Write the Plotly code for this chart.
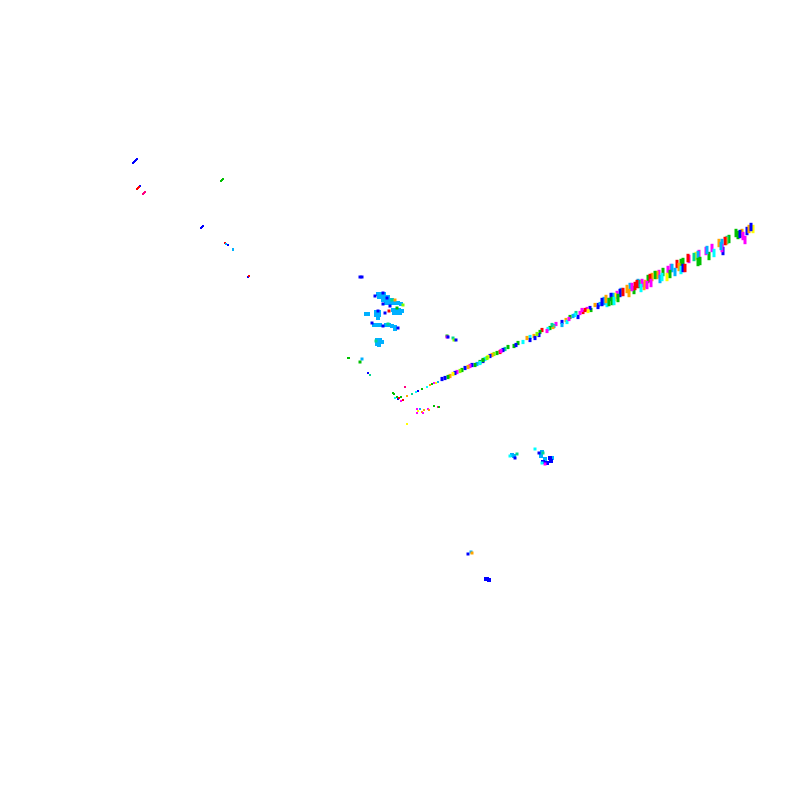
import plotly.graph_objects as go

# class -> colour
class_colors = {
    "red": "#ff0000", "pink": "#ff0080", "orange": "#ffa500", "yellow": "#ffff00",
    "lime": "#80ff00", "green": "#00c000", "spring": "#00d890", "cyan": "#00ffff",
    "azure": "#00b0ff", "blue": "#0000ff", "magenta": "#ff00ff",
}

# outer part of the ray: x, y, class
ray_far = [
    (738,235,"green"),(736,233,"green"),(742,233,"orange"),(740,234,"blue"),(745,240,"magenta"),(743,236,"magenta"),
    (747,231,"blue"),(749,229,"orange"),(753,229,"yellow"),(751,227,"blue"),
    (729,239,"green"),(727,240,"spring"),(726,241,"orange"),(725,241,"red"),(719,243,"orange"),(722,243,"azure"),
    (723,251,"blue"),(722,248,"magenta"),(721,246,"azure"),(712,248,"magenta"),(714,253,"cyan"),(709,256,"green"),(706,251,"magenta"),(707,250,"azure"),
    (699,254,"magenta"),(696,256,"yellow"),(698,255,"azure"),(694,257,"spring"),(700,261,"green"),(698,262,"green"),
    (689,259,"magenta"),(688,258,"red"),(683,262,"green"),(681,263,"green"),(677,264,"red"),
    (679,267,"orange"),(681,270,"cyan"),(683,268,"blue"),(685,268,"red"),
    (671,268,"magenta"),(675,272,"azure"),(672,268,"azure"),(668,270,"magenta"),(667,277,"yellow"),(670,274,"green"),
    (663,272,"green"),(659,274,"magenta"),(657,275,"orange"),(655,275,"green"),(660,279,"azure"),(662,277,"cyan"),
    (652,277,"orange"),(648,279,"green"),(650,278,"red"),(651,283,"magenta"),
    (644,286,"orange"),(645,284,"orange"),(642,283,"magenta"),(639,284,"green"),(641,288,"cyan"),(638,283,"azure"),
    (637,284,"red"),(647,285,"magenta"),(634,290,"green"),(635,286,"red"),(630,287,"azure"),(632,287,"magenta"),
    (627,289,"orange"),(629,293,"orange"),(621,292,"azure"),(620,293,"blue"),(623,292,"red"),
    (617,295,"magenta"),(615,297,"yellow"),(618,298,"green"),(613,297,"azure"),(611,297,"blue"),
    (612,301,"green"),(607,303,"cyan"),(604,301,"azure"),(602,302,"blue"),(606,299,"orange"),
    (609,302,"green"),(614,301,"cyan"),
]

# middle part of the ray
ray_mid = [
    (608,300,"azure"),(607,303,"cyan"),(603,302,"blue"),(598,305,"blue"),(600,304,"azure"),(598,307,"blue"),(595,305,"orange"),
    (591,310,"green"),(590,308,"blue"),(587,309,"magenta"),(588,311,"yellow"),(585,310,"red"),(583,312,"red"),(580,313,"magenta"),
    (582,310,"magenta"),(578,317,"blue"),(576,313,"spring"),(575,315,"cyan"),(573,316,"azure"),(570,317,"green"),(566,320,"orange"),(567,322,"cyan"),
    (569,319,"magenta"),(562,322,"blue"),(562,325,"azure"),(556,324,"magenta"),(554,326,"azure"),(553,327,"orange"),(552,325,"spring"),(550,328,"green"),
    (548,329,"cyan"),(547,331,"magenta"),(542,330,"red"),(540,332,"green"),(539,335,"blue"),(534,336,"orange"),(535,338,"blue"),
    (537,334,"lime"),(530,337,"cyan"),(530,340,"blue"),(527,338,"orange"),(523,342,"cyan"),(518,343,"green"),
    (514,346,"green"),(516,345,"blue"),(508,347,"green"),(505,349,"spring"),(503,350,"blue"),(500,352,"red"),(501,351,"magenta"),
    (497,353,"green"),(494,354,"lime"),(492,355,"orange"),(490,356,"blue"),(488,357,"yellow"),(485,359,"cyan"),(483,361,"blue"),
    (480,362,"green"),(487,358,"lime"),(483,360,"green"),(480,363,"cyan"),(477,364,"azure"),(475,365,"green"),(472,365,"blue"),
    (470,366,"magenta"),(468,367,"orange"),(465,368,"blue"),(462,370,"green"),(460,371,"lime"),(457,372,"magenta"),(455,373,"blue"),(453,374,"yellow"),
    (450,376,"orange"),(448,377,"green"),(445,378,"blue"),(442,379,"blue"),
]

# inner part of the ray and the scattered specks around its root
ray_near = [
    (438,382,"azure"),(436,383,"yellow"),(434,383,"magenta"),(432,384,"green"),
    (430,385,"orange"),(427,387,"cyan"),(422,389,"green"),(418,391,"blue"),(416,392,"cyan"),
    (412,394,"spring"),(407,396,"orange"),(405,387,"pink"),(393,393,"green"),(394,394,"green"),
    (397,397,"green"),(395,398,"cyan"),(398,399,"blue"),(399,398,"red"),(401,397,"green"),
    (401,401,"magenta"),(403,400,"red"),(417,409,"magenta"),(417,413,"magenta"),(418,411,"yellow"),
    (420,409,"azure"),(422,412,"orange"),(423,413,"magenta"),(424,410,"orange"),(428,409,"magenta"),
    (429,410,"orange"),(434,406,"green"),(438,407,"pink"),(439,407,"green"),(407,424,"yellow"),
    (368,373,"blue"),(370,375,"spring"),(349,358,"green"),(348,358,"green"),
]

# compact blobs
blobs = [
    (378,294,"azure"),(381,294,"azure"),(384,294,"azure"),(379,297,"azure"),(382,297,"azure"),(385,297,"azure"),
    (388,297,"azure"),(383,300,"azure"),(386,300,"azure"),(389,300,"azure"),(392,300,"azure"),(386,303,"azure"),
    (389,303,"azure"),(392,303,"azure"),(395,303,"azure"),(398,303,"azure"),(401,304,"azure"),
    (393,310,"azure"),(396,310,"azure"),(399,310,"azure"),(402,311,"azure"),(394,313,"azure"),(397,313,"azure"),(400,313,"azure"),
    (376,312,"azure"),(379,312,"azure"),(376,315,"azure"),(379,315,"azure"),(378,318,"azure"),
    (368,314,"azure"),(366,314,"azure"),
    (374,325,"azure"),(377,325,"azure"),(380,325,"azure"),(386,325,"azure"),(389,325,"azure"),(392,326,"azure"),(395,327,"azure"),(395,329,"azure"),
    (377,340,"azure"),(380,340,"azure"),(379,343,"azure"),(382,342,"azure"),(377,344,"azure"),(379,345,"azure"),
    (512,455,"azure"),(514,456,"azure"),(542,452,"azure"),(541,456,"azure"),(545,459,"azure"),(552,458,"azure"),
    (543,462,"blue"),(547,463,"blue"),(550,458,"blue"),(551,461,"blue"),(487,579,"blue"),(489,580,"blue"),(486,579,"blue"),
]

# small accents on top of the blobs
accents = [
    (362,277,"blue"),(360,277,"blue"),(375,296,"blue"),(383,293,"blue"),(387,298,"blue"),(383,304,"blue"),(390,306,"blue"),
    (392,300,"spring"),(395,300,"orange"),(403,305,"lime"),(397,308,"green"),(389,311,"red"),(385,313,"blue"),(378,311,"blue"),
    (383,326,"blue"),(372,323,"blue"),(398,328,"blue"),(388,324,"spring"),(376,341,"spring"),
    (362,359,"azure"),(360,362,"green"),
    (447,336,"green"),(447,337,"magenta"),(448,337,"blue"),(453,338,"spring"),(454,340,"lime"),(456,340,"blue"),
    (510,456,"cyan"),(517,454,"spring"),(515,458,"blue"),(535,449,"cyan"),(539,453,"blue"),(543,453,"spring"),
    (545,464,"magenta"),(542,463,"cyan"),
    (468,554,"blue"),(471,552,"azure"),(472,553,"orange"),
]

# short diagonal ticks at the upper left
ticks = [
    (133,163,"blue"),(134,162,"blue"),(135,161,"blue"),(136,160,"blue"),(137,159,"blue"),(140,186,"blue"),
    (137,189,"red"),(138,188,"red"),(139,187,"red"),
    (143,194,"pink"),(144,193,"pink"),(145,192,"pink"),(221,181,"green"),(222,180,"green"),(223,179,"green"),
    (201,228,"blue"),(202,227,"blue"),(203,226,"blue"),
    (225,243,"red"),(226,244,"azure"),(228,245,"blue"),(233,250,"azure"),(233,249,"azure"),(248,277,"blue"),(249,276,"red"),
]

fig = go.Figure()


def add(points, symbol, size, line_width=0):
    xs = [p[0] for p in points]
    ys = [p[1] for p in points]
    colors = [class_colors[p[2]] for p in points]
    fig.add_trace(go.Scatter(
        x=xs, y=ys, mode="markers", hoverinfo="skip",
        marker=dict(symbol=symbol, size=size, color=colors,
                    line=dict(width=line_width, color=colors)),
    ))


add(blobs, "square", 4)
add(accents, "square", 3)
add(ticks, "square", 2)
add(ray_near, "square", 2)
add(ray_mid, "line-ns", 3, line_width=3)
add(ray_far, "line-ns", 6, line_width=3)

fig.update_layout(
    width=800, height=800, margin=dict(l=0, r=0, t=0, b=0),
    showlegend=False, paper_bgcolor="white", plot_bgcolor="white",
    xaxis=dict(range=[8, 808], visible=False),
    yaxis=dict(range=[808, 8], visible=False),
)
fig.write_html("out.html")
